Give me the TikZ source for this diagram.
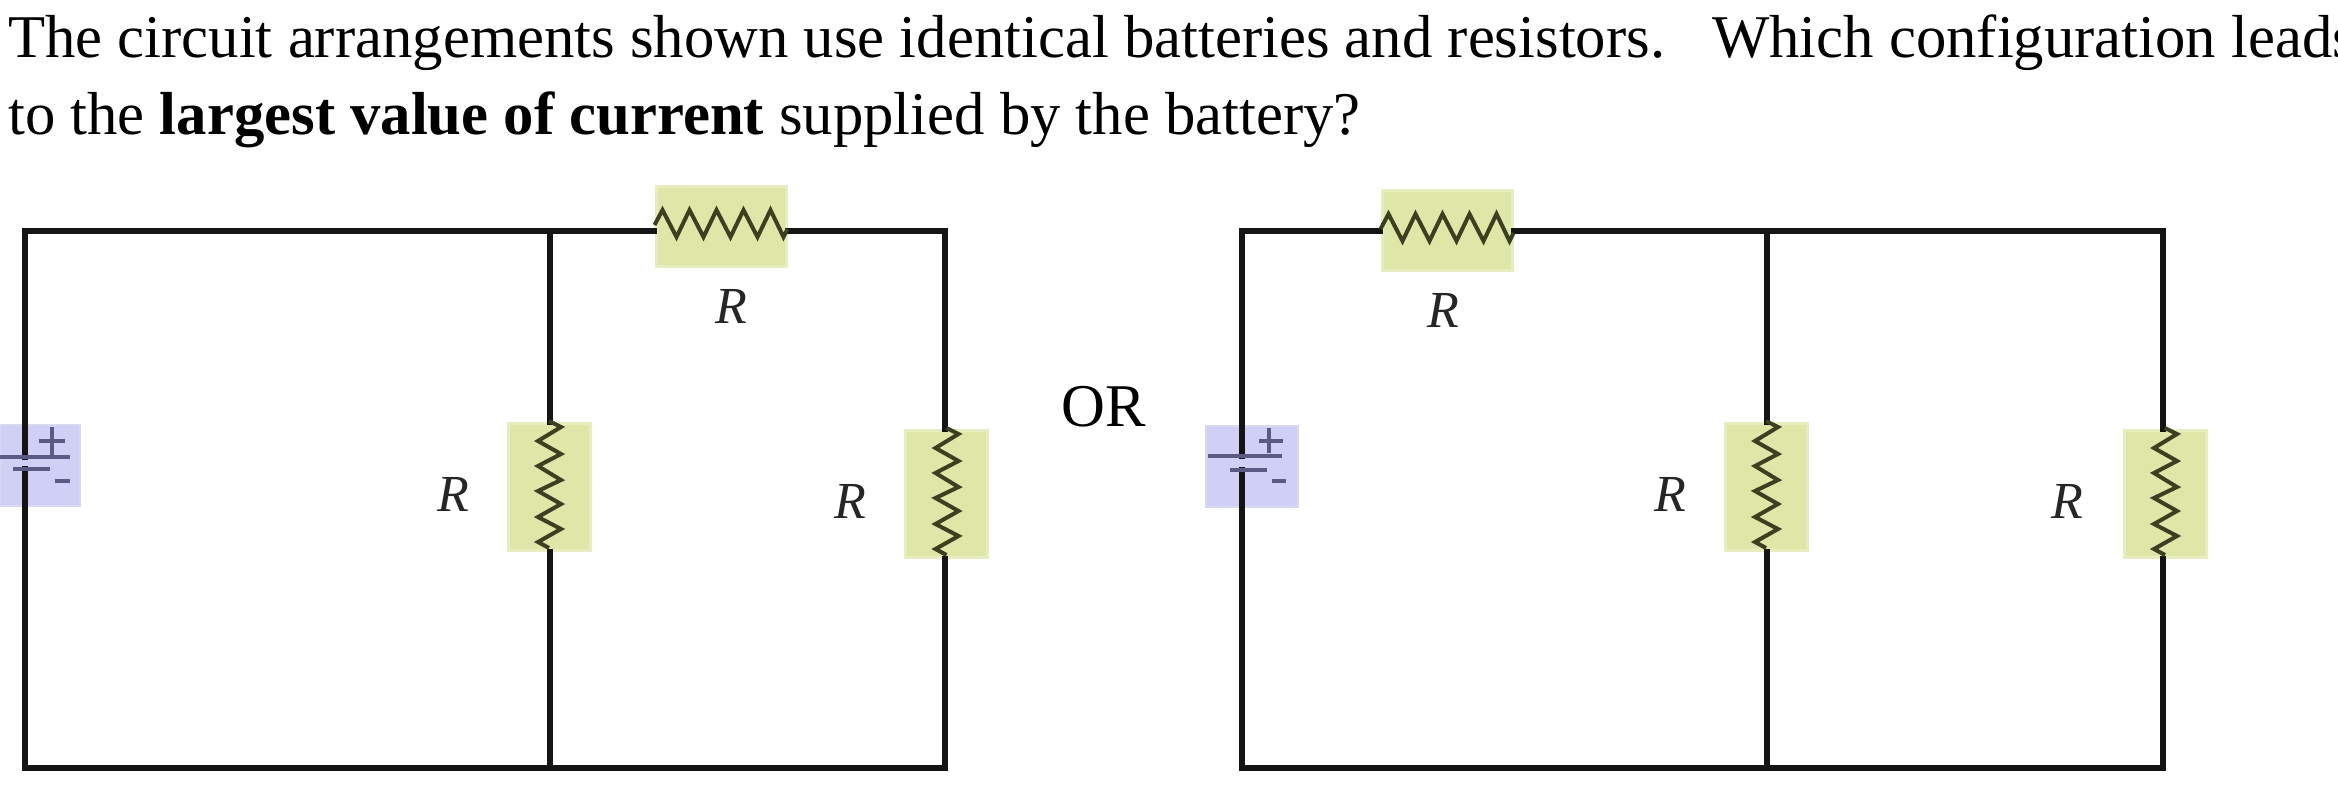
\documentclass[tikz,border=0pt]{standalone}
\usepackage{fontspec}
\setmainfont{Liberation Serif}
\definecolor{resgreen}{HTML}{DEE6A8}
\definecolor{resedge}{HTML}{E8EDC0}
\definecolor{batblue}{HTML}{D0D0F6}
\definecolor{batedge}{HTML}{D8D8F0}
\definecolor{platecol}{HTML}{5A5A85}
\definecolor{zigcol}{HTML}{3C4020}
\tikzset{
  wire/.style={draw=black!92,line width=5.5pt,line cap=rect},
  zig/.style={draw=zigcol,line width=4pt,line join=miter},
  resh/.style={fill=resgreen,draw=resedge,line width=3pt,minimum width=130pt,minimum height=80pt,inner sep=0pt},
  resv/.style={fill=resgreen,draw=resedge,line width=3pt,minimum width=82pt,minimum height=127pt,inner sep=0pt},
  batbox/.style={fill=batblue,draw=batedge,line width=2pt,inner sep=0pt},
  plate/.style={draw=platecol,line width=4pt},
  sign/.style={draw=platecol,line width=3.5pt},
  rlabel/.style={font=\fontsize{52}{52}\selectfont\itshape,text=black!85,inner sep=0pt},
  body/.style={font=\fontsize{60.7}{74}\selectfont,inner sep=0pt,anchor=base west}
}
\newcommand{\zigh}[1]{\draw[zig] (#1.west) ++(0,-1) -- ++(8,-15) -- ++(14,27) -- ++(13,-27) -- ++(14,27) -- ++(13,-27) -- ++(14,27) -- ++(13,-27) -- ++(14,27) -- ++(13,-27) -- ++(13,27) -- ++(4,-8);}
\newcommand{\zigv}[1]{\draw[zig] (#1.north) ++(0,-1) -- ++(12,6) -- ++(-23,14) -- ++(23,13) -- ++(-23,12) -- ++(23,14) -- ++(-23,11) -- ++(23,13) -- ++(-23,13) -- ++(23,12) -- ++(-23,13) -- ++(11,6);}
\begin{document}
\begin{tikzpicture}[x=1pt,y=-1pt]
\useasboundingbox (0,0) rectangle (2338,804);
\node[body] (line1) at (8,57) {The circuit arrangements shown use identical batteries and resistors.\hspace{0.44em} Which configuration leads};
\node[body] (line2) at (8,134) {to the \textbf{largest value of current} supplied by the battery?};
\node[font=\fontsize{60.7}{62}\selectfont,inner sep=0pt] (or) at (1104,407) {OR};

% left circuit
\coordinate (aTL) at (25,231);
\coordinate (aBL) at (25,768);
\coordinate (aTM) at (550,231);
\coordinate (aBM) at (550,768);
\coordinate (aTR) at (945,231);
\coordinate (aBR) at (945,768);
\node[batbox,minimum width=80pt,minimum height=81pt] (aB) at (40,465.5) {};
\coordinate (aP) at (25,457);
\coordinate (aN) at (25,469);
\node[resh] (aR1) at (721,226) {};
\node[resv] (aR2) at (549,487) {};
\node[resv] (aR3) at (946.5,494) {};
\draw[wire] (aP) -- (aTL) -- (aTM) -- (aR1.west |- aTM);
\draw[wire] (aR1.east |- aTR) -- (aTR) -- (aR3.north -| aTR);
\draw[wire] (aR3.south -| aTR) -- (aBR) -- (aBM) -- (aBL) -- (aN);
\draw[wire] (aTM) -- (aR2.north -| aTM);
\draw[wire] (aR2.south -| aBM) -- (aBM);
\zigh{aR1}\zigv{aR2}\zigv{aR3}
\draw[plate] (0,457) -- (70,457);
\draw[plate] (13,469) -- (50,469);
\draw[sign] (39,441) -- (65,441);
\draw[sign] (52,427) -- (52,455);
\draw[sign] (55,481) -- (70,481);
\node[rlabel] (aL1) at (731,306) {R};
\node[rlabel] (aL2) at (453,494) {R};
\node[rlabel] (aL3) at (850,501) {R};

% right circuit
\coordinate (bTL) at (1242,231);
\coordinate (bBL) at (1242,768);
\coordinate (bTM) at (1767,231);
\coordinate (bBM) at (1767,768);
\coordinate (bTR) at (2163,231);
\coordinate (bBR) at (2163,768);
\node[batbox,minimum width=92pt,minimum height=81pt] (bB) at (1251.5,466.5) {};
\coordinate (bP) at (1242,456);
\coordinate (bN) at (1242,470);
\node[resh] (bR1) at (1447,230) {};
\node[resv] (bR2) at (1766,487) {};
\node[resv] (bR3) at (2165,494) {};
\draw[wire] (bP) -- (bTL) -- (bR1.west |- bTL);
\draw[wire] (bR1.east |- bTL) -- (bTM) -- (bTR) -- (bR3.north -| bTR);
\draw[wire] (bR3.south -| bTR) -- (bBR) -- (bBM) -- (bBL) -- (bN);
\draw[wire] (bTM) -- (bR2.north -| bTM);
\draw[wire] (bR2.south -| bBM) -- (bBM);
\zigh{bR1}\zigv{bR2}\zigv{bR3}
\draw[plate] (1208,456) -- (1282,456);
\draw[plate] (1230,470) -- (1267,470);
\draw[sign] (1259,441) -- (1283,441);
\draw[sign] (1269,428) -- (1269,453);
\draw[sign] (1272,481) -- (1286,481);
\node[rlabel] (bL1) at (1443,310) {R};
\node[rlabel] (bL2) at (1670,494) {R};
\node[rlabel] (bL3) at (2067,501) {R};
\end{tikzpicture}
\end{document}
